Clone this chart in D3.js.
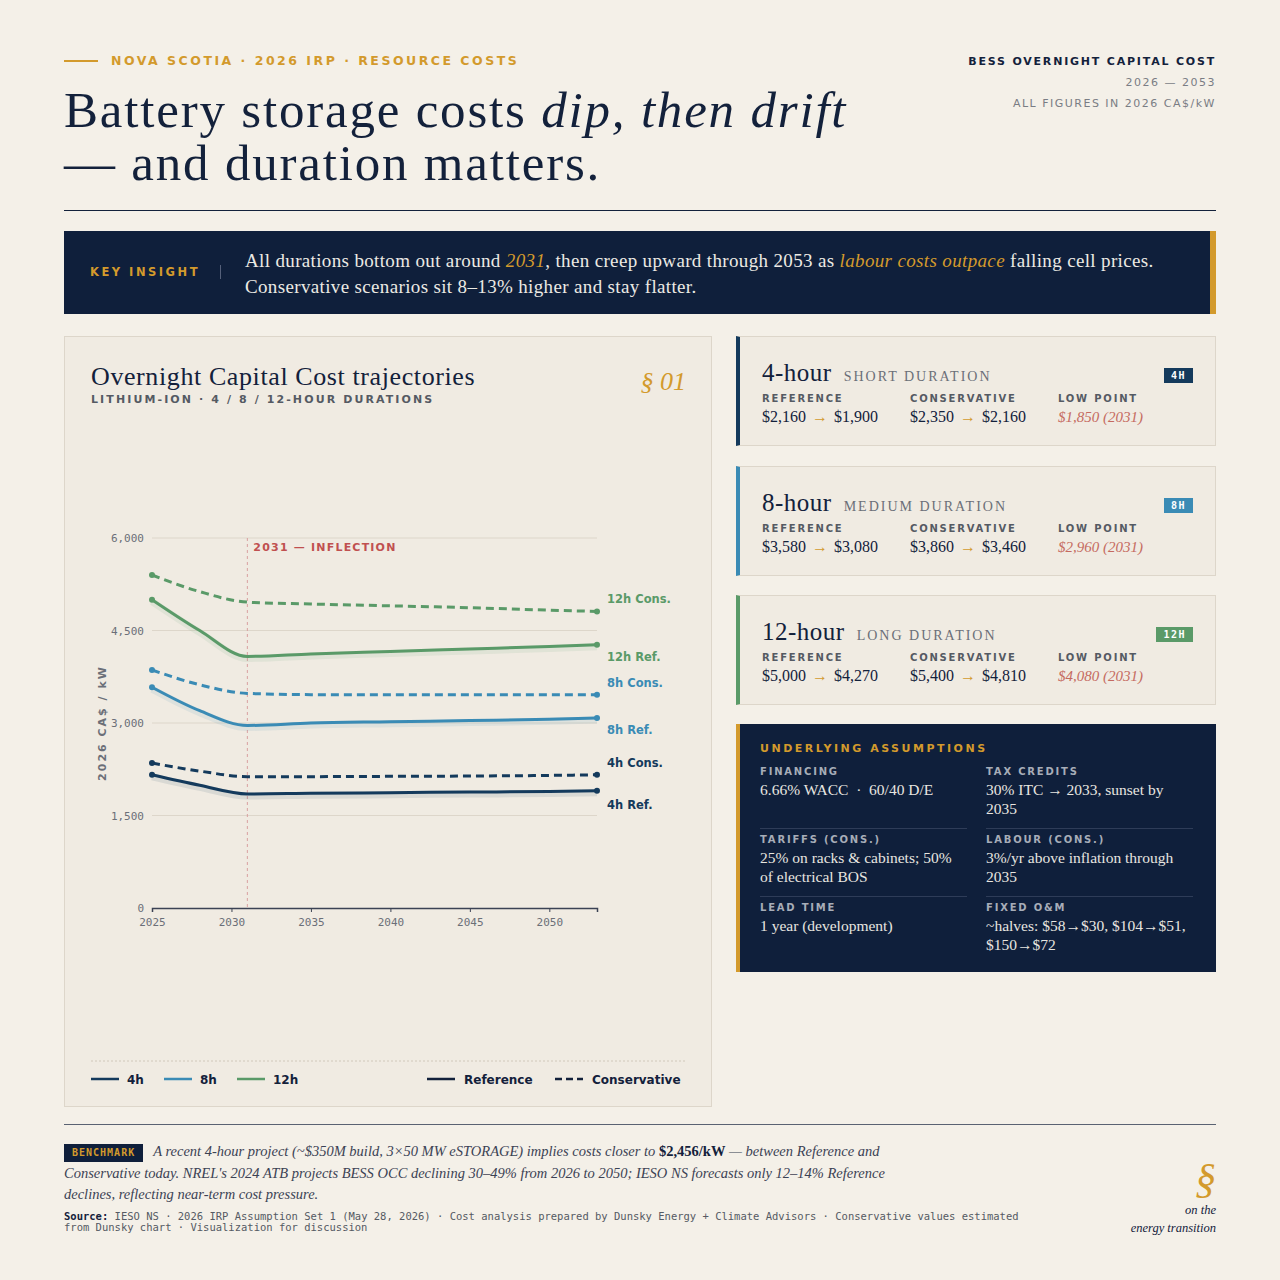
<!DOCTYPE html>
<html><head><meta charset="utf-8">
<script src="https://cdn.jsdelivr.net/npm/d3@7"></script>
<style>
body{margin:0;width:1280px;height:1280px;background:#f4f0e8;font-family:"Liberation Serif",serif;color:#13213b;position:relative;overflow:hidden}
.a{position:absolute}
.mono{font-family:"DejaVu Sans Mono",monospace}
.sans{font-family:"DejaVu Sans",sans-serif}
.kick{font-family:"DejaVu Sans",sans-serif;font-weight:bold;letter-spacing:2.5px;font-size:12px}
.card{position:absolute;left:736px;width:475px;background:#f0ebe2;border:1px solid #ddd6ca;border-left:4px solid}
.card h3{margin:0;position:absolute;left:22px;top:22px;font-weight:normal;font-size:25px;letter-spacing:0.5px}
.card h3 span{font-size:14px;letter-spacing:2px;color:#6b6f78;margin-left:12px}
.tag{position:absolute;right:22px;top:31px;color:#fff;font:bold 10px "DejaVu Sans Mono",monospace;letter-spacing:1.5px;padding:2px 7px}
.col{position:absolute;top:56px;font-size:16px}
.col b{display:block;font:bold 10px "DejaVu Sans",sans-serif;letter-spacing:1.8px;color:#555a63;margin-bottom:4px}
.arr{color:#d39a2c;margin:0 6px}
.asm{position:absolute;width:207px;font-size:15.5px;color:#e8e6e0;line-height:19px}
.asm b{display:block;font:bold 10px "DejaVu Sans",sans-serif;letter-spacing:1.8px;color:#a7adb8;margin-bottom:3px}
</style></head><body>
<div class="a" style="left:64px;top:60px;width:34px;border-top:2px solid #d39a2c"></div>
<div class="a kick" style="left:111px;top:53px;color:#d39a2c;font-size:12.5px">NOVA SCOTIA · 2026 IRP · RESOURCE COSTS</div>
<div class="a" style="left:64px;top:84px;font-size:51px;line-height:53px;letter-spacing:1.8px">Battery storage costs <i>dip, then drift</i><br>— and duration matters.</div>
<div class="a kick" style="right:64px;top:55px;font-size:11px;letter-spacing:1.8px;text-align:right">BESS OVERNIGHT CAPITAL COST</div>
<div class="a sans" style="right:64px;top:72px;font-size:11px;letter-spacing:1.5px;color:#7a7d84;text-align:right;line-height:21px">2026 — 2053<br>ALL FIGURES IN 2026 CA$/kW</div>
<div class="a" style="left:64px;top:210px;width:1152px;border-top:1px solid #13213b"></div>

<div class="a" style="left:64px;top:231px;width:1146px;height:83px;background:#0f1f3b;border-right:6px solid #d39a2c">
 <div class="a kick" style="left:26px;top:34px;color:#d39a2c;font-size:11.5px">KEY INSIGHT</div>
 <div class="a" style="left:156px;top:34px;height:14px;border-left:1px solid #55607a"></div>
 <div class="a" style="left:181px;top:17px;font-size:19px;letter-spacing:0.35px;line-height:26px;color:#eceae4">All durations bottom out around <i style="color:#d39a2c">2031</i>, then creep upward through 2053 as <i style="color:#d39a2c">labour costs outpace</i> falling cell prices.<br>Conservative scenarios sit 8–13% higher and stay flatter.</div>
</div>

<div class="a" style="left:64px;top:336px;width:646px;height:769px;background:#f0ebe2;border:1px solid #ddd6ca"></div>
<svg id="chart" class="a" style="left:64px;top:336px" width="648" height="770"></svg>

<div id="cards"></div>

<div class="a" style="left:736px;top:724px;width:476px;height:248px;background:#0f1f3b;border-left:4px solid #d39a2c">
 <div class="a kick" style="left:20px;top:18px;color:#d39a2c;font-size:11px">UNDERLYING ASSUMPTIONS</div>
 <div class="asm" style="left:20px;top:42px"><b>FINANCING</b>6.66% WACC &nbsp;·&nbsp; 60/40 D/E</div>
 <div class="asm" style="left:246px;top:42px"><b>TAX CREDITS</b>30% ITC → 2033, sunset by 2035</div>
 <div class="a" style="left:20px;top:104px;width:207px;border-top:1px solid #2e3c58"></div>
 <div class="a" style="left:246px;top:104px;width:207px;border-top:1px solid #2e3c58"></div>
 <div class="asm" style="left:20px;top:110px"><b>TARIFFS (CONS.)</b>25% on racks &amp; cabinets; 50% of electrical BOS</div>
 <div class="asm" style="left:246px;top:110px"><b>LABOUR (CONS.)</b>3%/yr above inflation through 2035</div>
 <div class="a" style="left:20px;top:172px;width:207px;border-top:1px solid #2e3c58"></div>
 <div class="a" style="left:246px;top:172px;width:207px;border-top:1px solid #2e3c58"></div>
 <div class="asm" style="left:20px;top:178px"><b>LEAD TIME</b>1 year (development)</div>
 <div class="asm" style="left:246px;top:178px"><b>FIXED O&amp;M</b>~halves: $58→$30, $104→$51, $150→$72</div>
</div>

<div class="a" style="left:64px;top:1124px;width:1152px;border-top:1px solid #5a6272"></div>
<div class="a" style="left:64px;top:1141px;width:850px;font-size:14.5px;line-height:21.5px;font-style:italic;color:#3b4254"><span class="mono" style="display:inline-block;line-height:14px;font-style:normal;background:#0f1f3b;color:#d39a2c;font-size:10px;font-weight:bold;letter-spacing:1px;padding:2px 8px;margin-right:10px">BENCHMARK</span>A recent 4-hour project (~$350M build, 3×50 MW eSTORAGE) implies costs closer to <b style="font-style:normal;color:#13213b">$2,456/kW</b> — between Reference and Conservative today. NREL's 2024 ATB projects BESS OCC declining 30–49% from 2026 to 2050; IESO NS forecasts only 12–14% Reference declines, reflecting near-term cost pressure.</div>
<div class="a mono" style="left:64px;top:1211px;font-size:10.5px;color:#555a63;line-height:11px;width:985px"><b style="color:#13213b">Source:</b> IESO NS · 2026 IRP Assumption Set 1 (May 28, 2026) · Cost analysis prepared by Dunsky Energy + Climate Advisors · Conservative values estimated from Dunsky chart · Visualization for discussion</div>
<div class="a" style="right:64px;top:1155px;font-size:42px;color:#d39a2c;font-style:italic">§</div>
<div class="a" style="right:64px;top:1201px;font-size:12.5px;font-style:italic;text-align:right;line-height:18px">on the<br>energy transition</div>

<script>
const years = [2025, 2028, 2031, 2035, 2040, 2045, 2050, 2053];
const ref4 = [2160, 1990, 1850, 1860, 1870, 1880, 1890, 1900];
const cons4 = [2350, 2220, 2130, 2130, 2135, 2140, 2150, 2160];
const ref8 = [3580, 3200, 2960, 3000, 3020, 3040, 3060, 3080];
const cons8 = [3860, 3620, 3480, 3460, 3460, 3460, 3460, 3460];
const ref12 = [5000, 4500, 4080, 4120, 4160, 4200, 4240, 4270];
const cons12 = [5400, 5130, 4960, 4930, 4900, 4870, 4830, 4810];
const yTicks = [0, 1500, 3000, 4500, 6000];
const xTicks = [2025, 2030, 2035, 2040, 2045, 2050];
const durations = ["4h", "8h", "12h"];
const colors = {"4h": "#143a5c", "8h": "#3a8bb5", "12h": "#5a9a68"};

const series = [
  {d: "4h", kind: "Ref.", v: ref4}, {d: "4h", kind: "Cons.", v: cons4},
  {d: "8h", kind: "Ref.", v: ref8}, {d: "8h", kind: "Cons.", v: cons8},
  {d: "12h", kind: "Ref.", v: ref12}, {d: "12h", kind: "Cons.", v: cons12}
];
const labelNudge = {"4h Ref.": 14, "4h Cons.": -12, "8h Ref.": 12, "8h Cons.": -12, "12h Ref.": 12, "12h Cons.": -12};

const svg = d3.select("#chart");
svg.append("text").attr("x", 27).attr("y", 49).attr("font-family", "Liberation Serif").attr("font-size", 26).attr("letter-spacing", 0.6).attr("fill", "#13213b").text("Overnight Capital Cost trajectories");
svg.append("text").attr("x", 27).attr("y", 67).attr("font-family", "DejaVu Sans").attr("font-weight", "bold").attr("font-size", 11).attr("letter-spacing", 2.1).attr("fill", "#555a63").text("LITHIUM-ION · 4 / 8 / 12-HOUR DURATIONS");
svg.append("text").attr("x", 622).attr("y", 54).attr("text-anchor", "end").attr("font-family", "Liberation Serif").attr("font-style", "italic").attr("font-size", 26).attr("fill", "#d39a2c").text("§ 01");

const g = svg.append("g").attr("transform", "translate(88,202)");
const w = 445, h = 370;
const x = d3.scaleLinear().domain([2025, 2053]).range([0, w]);
const y = d3.scaleLinear().domain([0, 6000]).range([h, 0]);

g.selectAll("line.grid").data(yTicks.slice(1)).join("line").attr("x1", 0).attr("x2", w)
  .attr("y1", d => y(d)).attr("y2", d => y(d)).attr("stroke", "#ddd6ca");
g.selectAll("text.yt").data(yTicks).join("text").attr("x", -8).attr("y", d => y(d) + 4).attr("text-anchor", "end")
  .attr("font-family", "DejaVu Sans Mono").attr("font-size", 11).attr("fill", "#6b6f78").text(d3.format(","));
const xa = g.append("g").attr("transform", `translate(0,${h})`).call(d3.axisBottom(x).tickValues(xTicks).tickFormat(d3.format("d")).tickSize(4).tickPadding(6));
xa.select(".domain").attr("stroke", "#3b4254").attr("stroke-width", 1.5);
xa.selectAll("line").attr("stroke", "#3b4254");
xa.selectAll("text").attr("font-family", "DejaVu Sans Mono").attr("font-size", 11).attr("fill", "#6b6f78");
g.append("text").attr("transform", `translate(-46,${y(3000)}) rotate(-90)`).attr("text-anchor", "middle")
  .attr("font-family", "DejaVu Sans").attr("font-weight", "bold").attr("font-size", 11).attr("letter-spacing", 2).attr("fill", "#6b6f78").text("2026 CA$ / kW");

g.append("line").attr("x1", x(2031)).attr("x2", x(2031)).attr("y1", 0).attr("y2", h).attr("stroke", "#d9a0a0").attr("stroke-dasharray", "3,3");
g.append("text").attr("x", x(2031) + 6).attr("y", 13).attr("font-family", "DejaVu Sans").attr("font-weight", "bold").attr("font-size", 11).attr("letter-spacing", 1.2).attr("fill", "#c05050").text("2031 — INFLECTION");

const line = d3.line().x((d, i) => x(years[i])).y(d => y(d)).curve(d3.curveMonotoneX);
series.forEach(s => {
  const c = colors[s.d], dashed = s.kind === "Cons.";
  if (!dashed) g.append("path").attr("d", line(s.v)).attr("fill", "none").attr("stroke", c).attr("stroke-opacity", 0.1).attr("stroke-width", 7).attr("transform", "translate(0,2)");
  g.append("path").attr("d", line(s.v)).attr("fill", "none").attr("stroke", c).attr("stroke-width", 3)
    .attr("stroke-dasharray", dashed ? "8,5" : null);
  [0, s.v.length - 1].forEach(i => g.append("circle").attr("cx", x(years[i])).attr("cy", y(s.v[i])).attr("r", 3).attr("fill", c));
  const key = `${s.d} ${s.kind}`;
  g.append("text").attr("x", w + 10).attr("y", y(s.v[s.v.length - 1]) + labelNudge[key] + 4)
    .attr("font-family", "DejaVu Sans").attr("font-weight", "bold").attr("font-size", 11.5).attr("fill", c).text(key);
});

svg.append("line").attr("x1", 27).attr("x2", 622).attr("y1", 725).attr("y2", 725).attr("stroke", "#d0c8ba").attr("stroke-dasharray", "2,2");
const leg = svg.append("g").attr("transform", "translate(27,743)").attr("font-family", "DejaVu Sans").attr("font-weight", "bold").attr("font-size", 12).attr("fill", "#13213b");
durations.forEach((d, i) => {
  const lx = i * 73;
  leg.append("line").attr("x1", lx).attr("x2", lx + 28).attr("stroke", colors[d]).attr("stroke-width", 2.5);
  leg.append("text").attr("x", lx + 36).attr("y", 5).text(d);
});
leg.append("line").attr("x1", 336).attr("x2", 364).attr("stroke", "#13213b").attr("stroke-width", 2.5);
leg.append("text").attr("x", 373).attr("y", 5).text("Reference");
leg.append("line").attr("x1", 464).attr("x2", 492).attr("stroke", "#13213b").attr("stroke-width", 2.5).attr("stroke-dasharray", "7,4");
leg.append("text").attr("x", 501).attr("y", 5).text("Conservative");

// right-hand summary cards
const cardTitles = ["4-hour", "8-hour", "12-hour"];
const cardSubs = ["SHORT DURATION", "MEDIUM DURATION", "LONG DURATION"];
const cardRef = [["$2,160", "$1,900"], ["$3,580", "$3,080"], ["$5,000", "$4,270"]];
const cardCons = [["$2,350", "$2,160"], ["$3,860", "$3,460"], ["$5,400", "$4,810"]];
const cardLow = ["$1,850 (2031)", "$2,960 (2031)", "$4,080 (2031)"];
const tagColors = ["#143a5c", "#3a8bb5", "#5a9a68"];
const cardTops = [336, 466, 595];
const cards = d3.select("#cards").selectAll("div.card").data(durations).join("div").attr("class", "card")
  .style("top", (d, i) => cardTops[i] + "px").style("height", "108px").style("border-left-color", (d, i) => tagColors[i]);
cards.html((d, i) => `<h3>${cardTitles[i]}<span>${cardSubs[i]}</span></h3>
 <div class="tag" style="background:${tagColors[i]}">${d.toUpperCase()}</div>
 <div class="col" style="left:22px"><b>REFERENCE</b>${cardRef[i][0]}<span class="arr">→</span>${cardRef[i][1]}</div>
 <div class="col" style="left:170px"><b>CONSERVATIVE</b>${cardCons[i][0]}<span class="arr">→</span>${cardCons[i][1]}</div>
 <div class="col" style="left:318px"><b>LOW POINT</b><i style="color:#c56a60;font-size:15px">${cardLow[i]}</i></div>`);
</script>
</body></html>
